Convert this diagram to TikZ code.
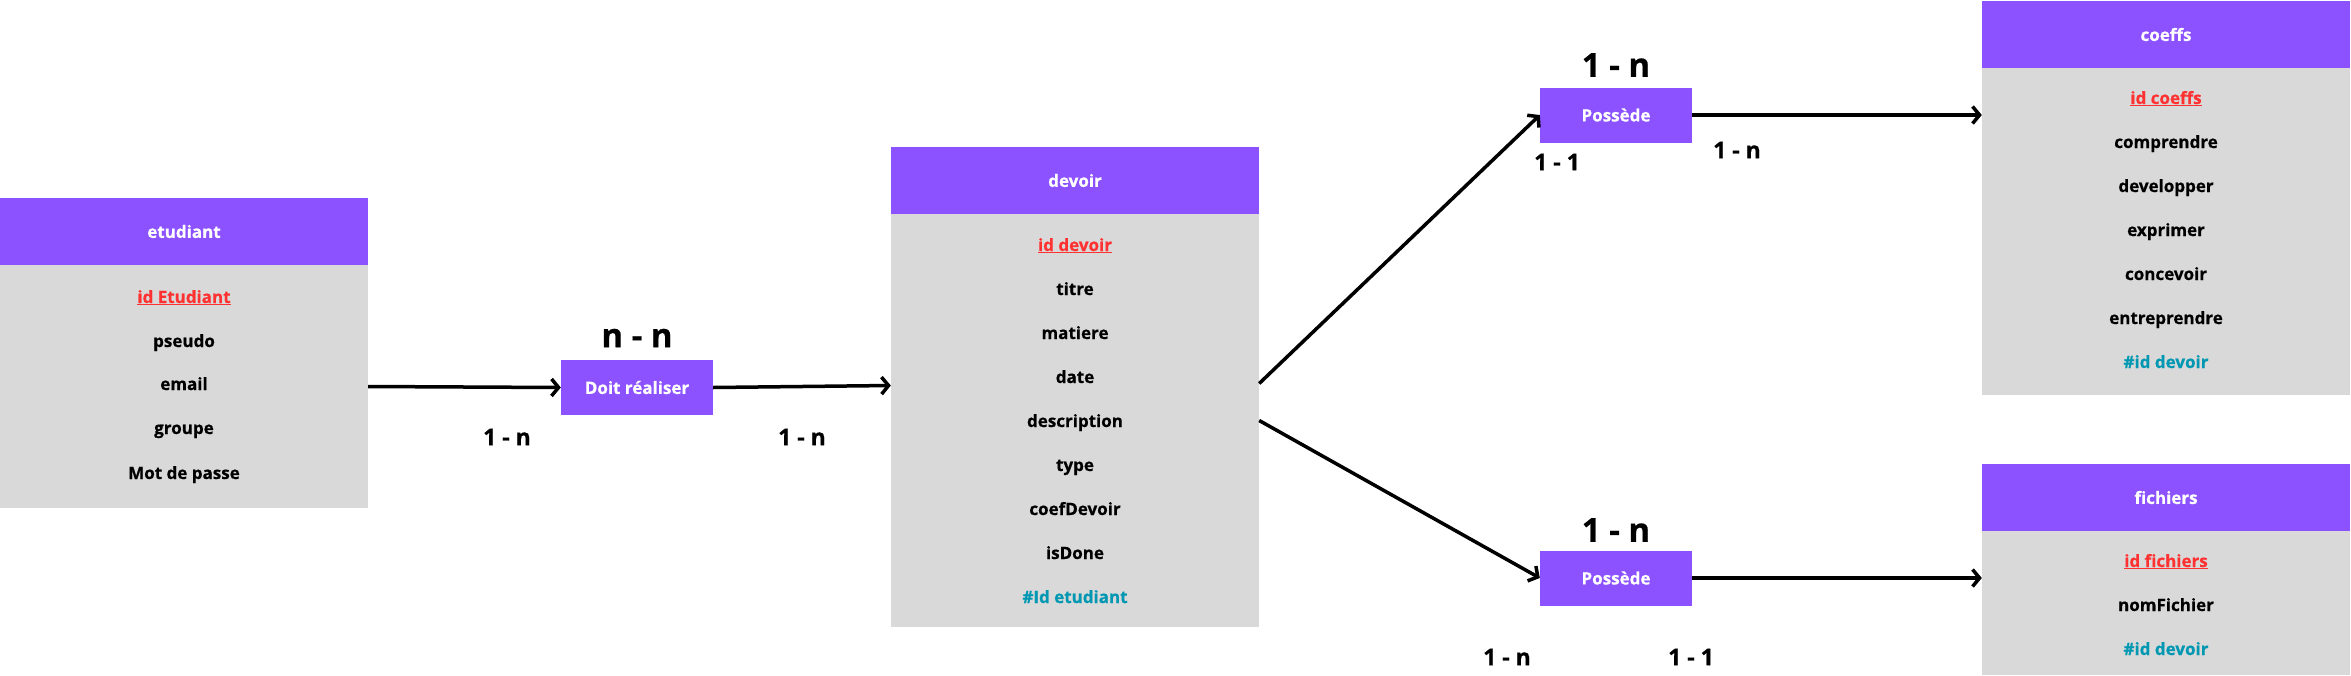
\documentclass[tikz,border=0pt]{standalone}
\usepackage{fontspec}
\setmainfont{Open Sans}[BoldFeatures={FakeBold=0.6}]
\usetikzlibrary{arrows.meta}
\definecolor{mauve}{HTML}{8C52FF}
\definecolor{gris}{HTML}{D9D9D9}
\definecolor{rouge}{HTML}{FF3131}
\definecolor{bleu}{HTML}{0097B2}
\tikzset{
  entete/.style={fill=mauve, text=white, minimum width=368, minimum height=67, inner sep=0, font=\fontsize{17}{20}\selectfont\bfseries},
  corps/.style={fill=gris, minimum width=368, inner sep=0},
  champ/.style={inner sep=0, text height=16pt, text depth=4pt, font=\fontsize{17}{20}\selectfont\bfseries},
  cle/.style={champ, text=rouge},
  etrangere/.style={champ, text=bleu},
  assoc/.style={fill=mauve, text=white, minimum width=152, minimum height=55, inner sep=0, font=\fontsize{17}{20}\selectfont\bfseries},
  card/.style={inner sep=0, font=\fontsize{23}{26}\selectfont\bfseries},
  grandcard/.style={inner sep=0, font=\fontsize{33}{36}\selectfont\bfseries},
  lien/.style={line width=3.5pt, -{Straight Barb[length=7pt,width=17pt]}}
}
\begin{document}
\begin{tikzpicture}[x=1pt,y=-1pt]
        \useasboundingbox (0,0) rectangle (2351,675);

        % table etudiant
        \node[entete] (etuH) at (184,231.5) {etudiant};
        \node[corps, minimum height=243] (etuB) at (184,386.5) {};
        \node[cle] (etu1) at (184,297) {\underline{id Etudiant}};
        \node[champ] (etu2) at (184,341) {pseudo};
        \node[champ] (etu3) at (184,384) {email};
        \node[champ] (etu4) at (184,428) {groupe};
        \node[champ] (etu5) at (184,473) {Mot de passe};

        % association Doit realiser
        \node[assoc] (doit) at (637,387.5) {Doit réaliser};
        \node[grandcard] (doitC) at (637,338) {n - n};
        \node[card] (doitG) at (507,437) {1 - n};
        \node[card] (doitD) at (802,437) {1 - n};

        % table devoir
        \node[entete] (devH) at (1075,180.5) {devoir};
        \node[corps, minimum height=413] (devB) at (1075,420.5) {};
        \node[cle] (dev1) at (1075,245) {\underline{id devoir}};
        \node[champ] (dev2) at (1075,289) {titre};
        \node[champ] (dev3) at (1075,333) {matiere};
        \node[champ] (dev4) at (1075,377) {date};
        \node[champ] (dev5) at (1075,421) {description};
        \node[champ] (dev6) at (1075,465) {type};
        \node[champ] (dev7) at (1075,509) {coefDevoir};
        \node[champ] (dev8) at (1075,553) {isDone};
        \node[etrangere] (dev9) at (1075,597) {\#Id etudiant};

        % association Possede (haut)
        \node[assoc] (posA) at (1616,115) {Possède};
        \node[grandcard] (posAC) at (1616,65) {1 - n};
        \node[card] (posAG) at (1557,162) {1 - 1};
        \node[card] (posAD) at (1737,150) {1 - n};

        % association Possede (bas)
        \node[assoc] (posB) at (1616,578) {Possède};
        \node[grandcard] (posBC) at (1616,530) {1 - n};
        \node[card] (posBG) at (1507,657) {1 - n};
        \node[card] (posBD) at (1691,657) {1 - 1};

        % table coeffs
        \node[entete] (coeH) at (2166,34.5) {coeffs};
        \node[corps, minimum height=327] (coeB) at (2166,231.5) {};
        \node[cle] (coe1) at (2166,98) {\underline{id coeffs}};
        \node[champ] (coe2) at (2166,142) {comprendre};
        \node[champ] (coe3) at (2166,186) {developper};
        \node[champ] (coe4) at (2166,230) {exprimer};
        \node[champ] (coe5) at (2166,274) {concevoir};
        \node[champ] (coe6) at (2166,318) {entreprendre};
        \node[etrangere] (coe7) at (2166,362) {\#id devoir};

        % table fichiers
        \node[entete] (ficH) at (2166,497.5) {fichiers};
        \node[corps, minimum height=144] (ficB) at (2166,603) {};
        \node[cle] (fic1) at (2166,561) {\underline{id fichiers}};
        \node[champ] (fic2) at (2166,605) {nomFichier};
        \node[etrangere] (fic3) at (2166,649) {\#id devoir};

        % liens
        \draw[lien] (etuB.east) -- (doit.west);
        \draw[lien] (doit.east) -- ([yshift=35pt]devB.west);
        \draw[lien] ([yshift=37pt]devB.east) -- (posA.west);
        \draw[lien] (devB.east) -- (posB.west);
        \draw[lien] (posA.east) -- (coeB.west |- posA.east);
        \draw[lien] (posB.east) -- (ficB.west |- posB.east);
    \end{tikzpicture}
\end{document}
